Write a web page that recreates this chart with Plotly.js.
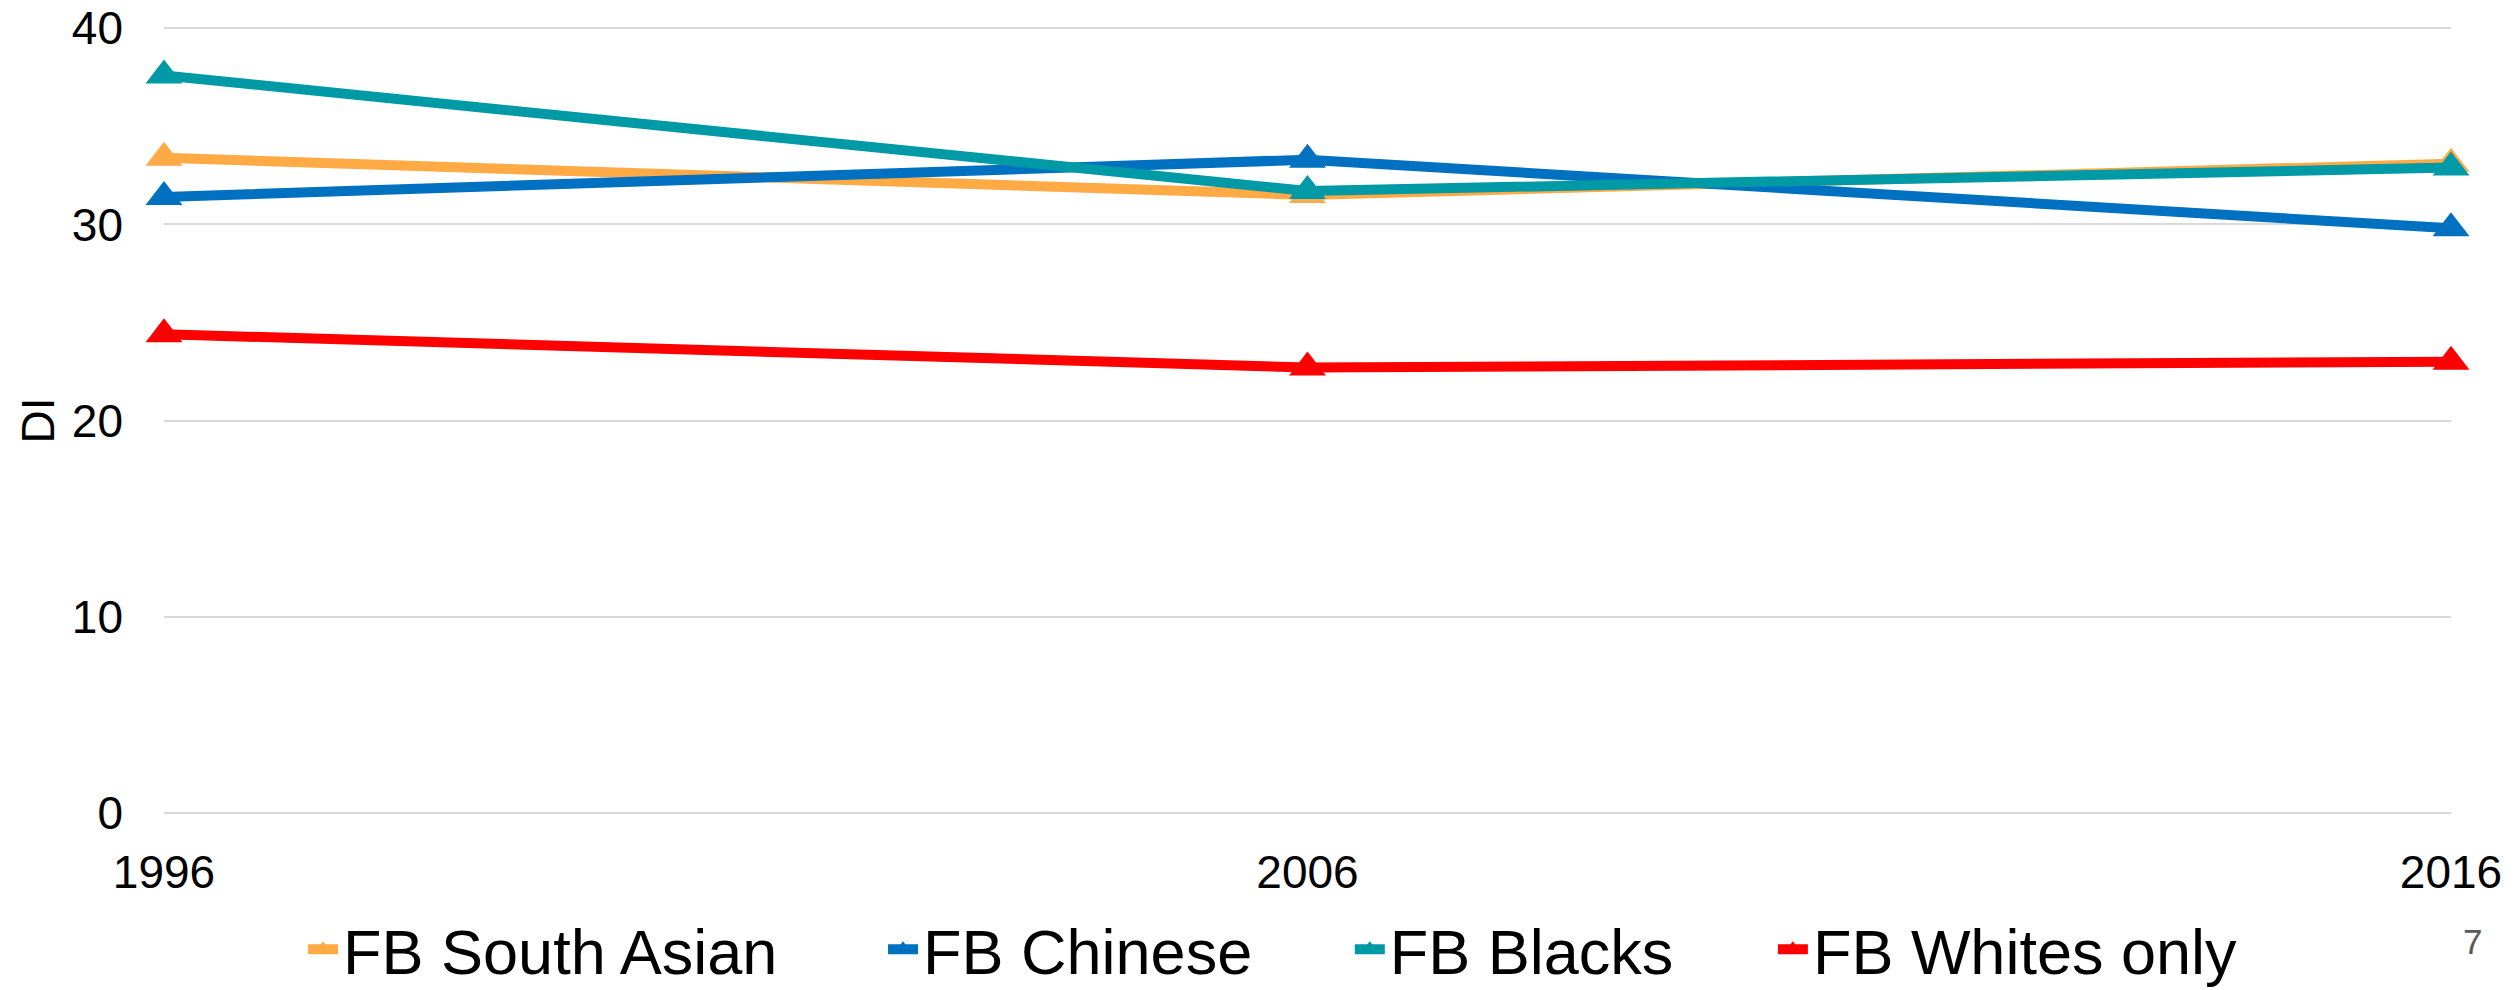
<!DOCTYPE html>
<html>
<head>
<meta charset="utf-8">
<script src="https://cdn.plot.ly/plotly-3.0.1.min.js"></script>
<style>
  html, body { margin: 0; padding: 0; background: #ffffff; }
  #chart { width: 2517px; height: 990px; }
</style>
</head>
<body>
<div id="chart"></div>
<script>
// ---- data ----
const years = [1996, 2006, 2016];
const seriesNames = ["FB South Asian", "FB Chinese", "FB Blacks", "FB Whites only"];
const southAsian = [33.4, 31.5, 33.1];
const chinese = [31.4, 33.3, 29.8];
const blacks = [37.6, 31.7, 32.9];
const whitesOnly = [24.4, 22.7, 23.0];
const yTicks = [0, 10, 20, 30, 40];
const pageNumber = "7";

// ---- style ----
const colors = ["#FFAA45", "#0070C0", "#0099A6", "#FF0000"];
const legendIds = ["legend", "legend2", "legend3", "legend4"];
const legendX = [0.0608, 0.3144, 0.5185, 0.7035];
const allValues = [southAsian, chinese, blacks, whitesOnly];

const traces = allValues.map((vals, i) => ({
  type: "scatter",
  mode: "lines+markers",
  x: years,
  y: vals,
  name: seriesNames[i],
  legend: legendIds[i],
  cliponaxis: false,
  line: { color: colors[i], width: 10 },
  marker: { symbol: "triangle-up", size: 32, color: colors[i] }
}));

function legendBox(x) {
  return {
    orientation: "h",
    x: x,
    xanchor: "left",
    y: -0.11,
    yanchor: "top",
    font: { size: 63, color: "#000000", family: "Liberation Sans, Arial, sans-serif" },
    bgcolor: "rgba(0,0,0,0)",
    borderwidth: 0
  };
}

const layout = {
  width: 2517,
  height: 990,
  paper_bgcolor: "#ffffff",
  plot_bgcolor: "#ffffff",
  margin: { l: 164, r: 66, t: 26, b: 175, autoexpand: false },
  font: { family: "Liberation Sans, Arial, sans-serif", color: "#000000" },
  showlegend: true,
  legend: legendBox(legendX[0]),
  legend2: legendBox(legendX[1]),
  legend3: legendBox(legendX[2]),
  legend4: legendBox(legendX[3]),
  xaxis: {
    type: "linear",
    range: [1996, 2016],
    tickvals: years,
    ticktext: years.map(String),
    showgrid: false,
    zeroline: false,
    showline: false,
    ticks: "",
    ticklabelstandoff: 26,
    tickfont: { size: 46, color: "#000000" }
  },
  yaxis: {
    range: [-0.12, 40.12],
    tickvals: yTicks,
    showgrid: true,
    gridcolor: "#D9D9D9",
    gridwidth: 2,
    zeroline: false,
    showline: false,
    ticks: "",
    ticklabelstandoff: 40,
    tickfont: { size: 46, color: "#000000" },
    title: { text: "DI", font: { size: 46, color: "#000000" }, standoff: 2 }
  },
  annotations: [{
    text: pageNumber,
    xref: "paper", yref: "paper",
    x: 1.0096, y: -0.16,
    xanchor: "center", yanchor: "middle",
    showarrow: false,
    font: { size: 35, color: "#595959" }
  }]
};

Plotly.newPlot("chart", traces, layout, { displayModeBar: false, staticPlot: true });
</script>
</body>
</html>
